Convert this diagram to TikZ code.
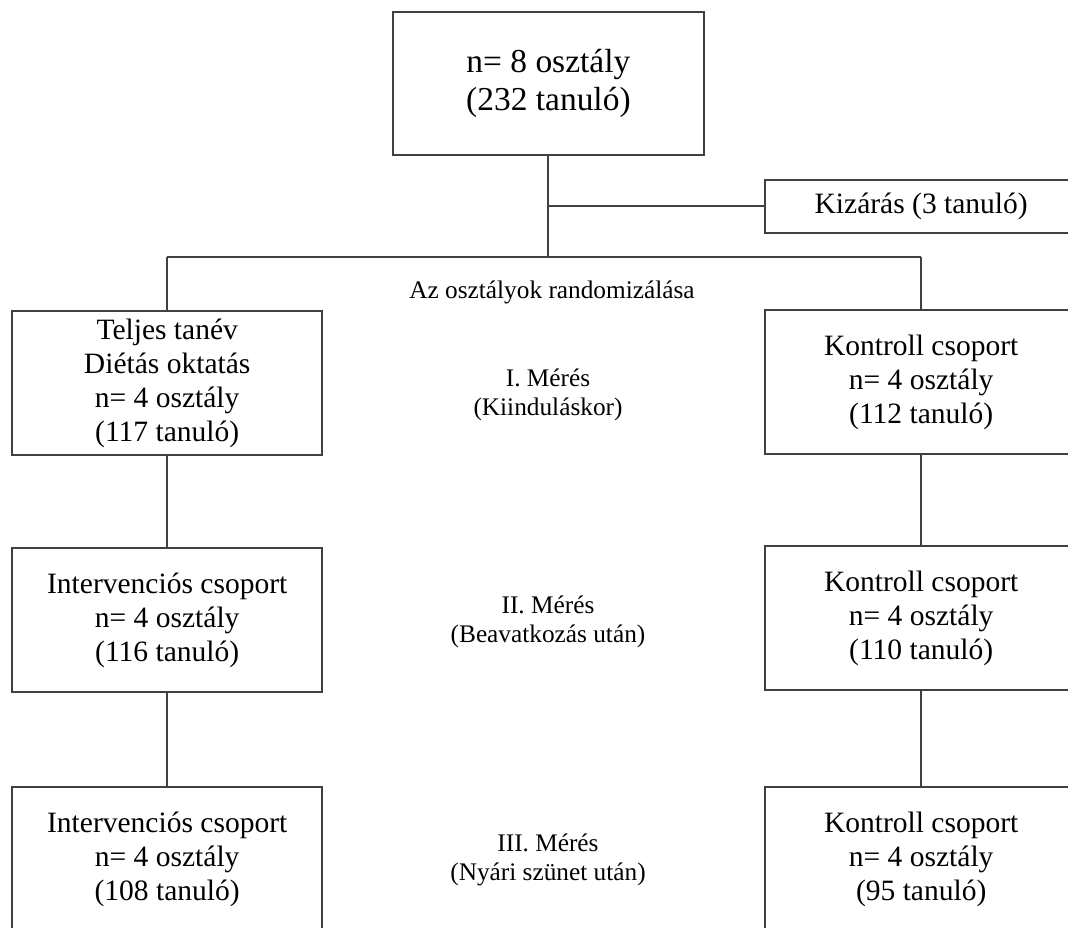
\documentclass[tikz,border=0pt]{standalone}
\usepackage{fontspec}
\setmainfont{Liberation Serif}
\usetikzlibrary{positioning}
\tikzset{font=\fontsize{21}{24.2}\selectfont}

\begin{document}
\begin{tikzpicture}
	\useasboundingbox (0, 0) rectangle (26.7, -23.175);
	\clip (0, 0) rectangle (26.7, -23.175);
	\begin{scope}
		\tikzstyle{every node}=[align=center, inner sep=1pt]
		\tikzstyle{box}=[draw=black!75, line width=1.3pt, minimum width=7.75cm, minimum height=3.6cm]
		\tikzstyle{note}=[font=\fontsize{18}{20.6}\selectfont]
		\tikzstyle{wire}=[draw=black!75, line width=1.3pt]

		\node[box, minimum width=7.78cm, minimum height=3.58cm, font=\fontsize{23.8}{27}\selectfont] (all) at (13.71, -2.09) {n= 8 osztály\\(232 tanuló)};
		\node[box, minimum width=7.8cm, minimum height=1.33cm] (excl) at (23.03, -5.16) {Kizárás (3 tanuló)};
		\node[note] (rand) at (13.8, -7.3) {Az osztályok randomizálása};

		\node[box] (int1) at (4.18, -9.575) {Teljes tanév\\Diétás oktatás\\n= 4 osztály\\(117 tanuló)};
		\node[box] (int2) at (4.18, -15.5) {Intervenciós csoport\\n= 4 osztály\\(116 tanuló)};
		\node[box] (int3) at (4.18, -21.475) {Intervenciós csoport\\n= 4 osztály\\(108 tanuló)};

		\node[note] (m1) at (13.7, -9.875) {I. Mérés\\(Kiinduláskor)};
		\node[note] (m2) at (13.7, -15.55) {II. Mérés\\(Beavatkozás után)};
		\node[note] (m3) at (13.7, -21.5) {III. Mérés\\(Nyári szünet után)};

		\node[box, minimum width=7.8cm] (ctl1) at (23.03, -9.56) {Kontroll csoport\\n= 4 osztály\\(112 tanuló)};
		\node[box, minimum width=7.8cm] (ctl2) at (23.03, -15.46) {Kontroll csoport\\n= 4 osztály\\(110 tanuló)};
		\node[box, minimum width=7.8cm] (ctl3) at (23.03, -21.475) {Kontroll csoport\\n= 4 osztály\\(95 tanuló)};

		\coordinate (fork) at (13.71, -5.16);
		\coordinate (split) at (13.71, -6.43);
		\coordinate (splitl) at (4.18, -6.43);
		\coordinate (splitr) at (23.03, -6.43);

		\draw [wire] (all) to (split);
		\draw [wire] (fork) to (excl);
		\draw [wire] (splitl) to (splitr);
		\draw [wire] (splitl) to (int1);
		\draw [wire] (splitr) to (ctl1);

		\draw [wire] (int1) to (int2);
		\draw [wire] (int2) to (int3);
		\draw [wire] (ctl1) to (ctl2);
		\draw [wire] (ctl2) to (ctl3);
	\end{scope}
\end{tikzpicture}
\end{document}
